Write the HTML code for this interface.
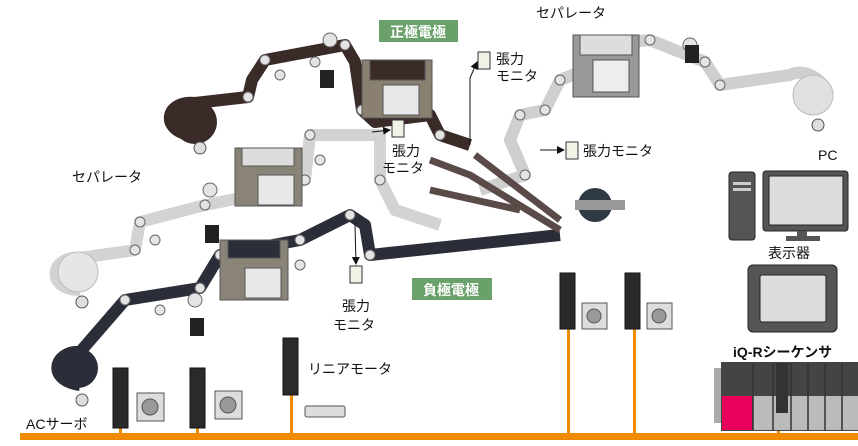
<!DOCTYPE html>
<html><head><meta charset="utf-8"><style>
body{margin:0;background:#fff}
svg{display:block}
text{font-family:"Liberation Sans","Noto Sans CJK JP",sans-serif;fill:#111}
</style></head><body>
<svg width="858" height="446" viewBox="0 0 858 446" xmlns="http://www.w3.org/2000/svg">
<defs>
<marker id="ar" markerWidth="8" markerHeight="8" refX="7" refY="4" orient="auto"><path d="M0,0 L8,4 L0,8z" fill="#111"/></marker>
</defs>
<g fill="none" stroke-linejoin="round">
<path d="M190,135 C160,130 165,100 195,103 L248,97 L252,80 L265,60 L345,45 L355,62 L362,110 L375,122 L430,115 L440,135 L470,145" stroke="#3a2a28" stroke-width="12"/>
<path d="M815,110 C840,90 810,65 790,75 L720,85 L705,62 L650,40 L600,45 L585,70 L560,80 L545,110 L520,115 L510,140 L525,175 L480,190" stroke="#cfcfcf" stroke-width="12"/>
<path d="M80,290 C45,290 50,255 80,258 L135,250 L140,222 L205,205 L245,197 L305,180 L310,135 L380,135 L380,180 L395,210 L440,225" stroke="#d3d3d3" stroke-width="12"/>
<path d="M80,385 C45,380 55,350 80,352 L125,300 L200,288 L220,255 L300,240 L350,215 L365,225 L370,255 L560,235" stroke="#2b2d38" stroke-width="12"/>
<path d="M430,160 L470,175 L560,230 M475,155 L560,220 M430,190 L520,210" stroke="#5a4a48" stroke-width="7"/>
</g>
<!-- rollers -->
<g fill="#e4e4e4" stroke="#666" stroke-width="1">
<circle cx="248" cy="97" r="5"/><circle cx="265" cy="60" r="5"/><circle cx="345" cy="45" r="5"/><circle cx="362" cy="110" r="5"/><circle cx="440" cy="135" r="5"/><circle cx="280" cy="75" r="5"/><circle cx="315" cy="62" r="5"/>
<circle cx="720" cy="85" r="5"/><circle cx="705" cy="62" r="5"/><circle cx="650" cy="40" r="5"/><circle cx="560" cy="80" r="5"/><circle cx="545" cy="110" r="5"/><circle cx="520" cy="115" r="5"/><circle cx="525" cy="175" r="5"/>
<circle cx="135" cy="250" r="5"/><circle cx="140" cy="222" r="5"/><circle cx="205" cy="205" r="5"/><circle cx="305" cy="180" r="5"/><circle cx="310" cy="135" r="5"/><circle cx="380" cy="180" r="5"/><circle cx="155" cy="240" r="5"/><circle cx="320" cy="160" r="5"/>
<circle cx="125" cy="300" r="5"/><circle cx="200" cy="288" r="5"/><circle cx="220" cy="255" r="5"/><circle cx="300" cy="240" r="5"/><circle cx="350" cy="215" r="5"/><circle cx="370" cy="255" r="5"/><circle cx="300" cy="265" r="5"/><circle cx="160" cy="310" r="5"/>
<circle cx="210" cy="190" r="7"/><circle cx="330" cy="40" r="7"/><circle cx="690" cy="45" r="7"/><circle cx="195" cy="300" r="7"/>
</g>
<circle cx="195" cy="122" r="22" fill="#3a2a28"/><circle cx="200" cy="148" r="6" fill="#ddd" stroke="#555"/>
<circle cx="813" cy="95" r="20" fill="#e0e0e0" stroke="#bbb"/><circle cx="818" cy="125" r="6" fill="#ddd" stroke="#555"/>
<circle cx="78" cy="272" r="20" fill="#e6e6e6" stroke="#bbb"/><circle cx="82" cy="302" r="6" fill="#ddd" stroke="#555"/>
<circle cx="78" cy="368" r="20" fill="#2b2d38"/><circle cx="82" cy="400" r="6" fill="#ddd" stroke="#555"/>
<circle cx="595" cy="205" r="17" fill="#2f3a45"/><rect x="575" y="200" width="50" height="10" fill="#999"/>
<g stroke="#555" stroke-width="1">
<rect x="362" y="60" width="70" height="58" fill="#8a8070"/><rect x="383" y="85" width="36" height="30" fill="#e8e8e8"/><rect x="370" y="60" width="55" height="20" fill="#3a2a28"/>
<rect x="573" y="35" width="66" height="62" fill="#999"/><rect x="593" y="60" width="36" height="32" fill="#ededed"/><rect x="580" y="35" width="52" height="20" fill="#ddd"/>
<rect x="235" y="148" width="67" height="58" fill="#8a8478"/><rect x="258" y="175" width="36" height="30" fill="#e8e8e8"/><rect x="242" y="148" width="52" height="18" fill="#ddd"/>
<rect x="220" y="240" width="68" height="60" fill="#8a8478"/><rect x="245" y="268" width="36" height="30" fill="#e8e8e8"/><rect x="228" y="240" width="52" height="18" fill="#2b2d38"/>
</g>
<g fill="#222"><rect x="320" y="70" width="14" height="18"/><rect x="685" y="45" width="14" height="18"/><rect x="205" y="225" width="14" height="18"/><rect x="190" y="318" width="14" height="18"/></g>
<g fill="#f2f1e6" stroke="#333"><rect x="392" y="120" width="12" height="17"/><rect x="478" y="52" width="12" height="17"/><rect x="566" y="142" width="12" height="17"/><rect x="350" y="266" width="12" height="17"/></g>
<g stroke="#111" fill="none" marker-end="url(#ar)"><path d="M372,132 L390,130"/><path d="M470,145 L470,78 L477,62"/><path d="M540,150 L564,150"/><path d="M355,225 L356,264"/></g>
<g font-size="14"><text x="392" y="156">張力</text><text x="382" y="173">モニタ</text>
<text x="496" y="64">張力</text><text x="496" y="81">モニタ</text>
<text x="583" y="156">張力モニタ</text>
<text x="342" y="311">張力</text><text x="333" y="330">モニタ</text>
<text x="72" y="182">セパレータ</text><text x="536" y="18">セパレータ</text>
<text x="308" y="374">リニアモータ</text><text x="26" y="429">ACサーボ</text>
<text x="818" y="160">PC</text><text x="768" y="258">表示器</text><text x="733" y="357" font-weight="bold">iQ-Rシーケンサ</text></g>
<rect x="379" y="20" width="79" height="22" fill="#6aa06a"/><text x="390" y="37" font-size="14" font-weight="bold" style="fill:#fff">正極電極</text>
<rect x="412" y="278" width="80" height="22" fill="#6aa06a"/><text x="423" y="295" font-size="14" font-weight="bold" style="fill:#fff">負極電極</text>
<rect x="20" y="433" width="838" height="7" fill="#f08a00"/>
<g fill="#f08a00"><rect x="119" y="426" width="3" height="9"/><rect x="196" y="426" width="3" height="9"/><rect x="290" y="394" width="3" height="40"/><rect x="567" y="328" width="3" height="106"/><rect x="633" y="328" width="3" height="106"/><rect x="777" y="420" width="3" height="14"/></g>
<g fill="#2a2a2a" stroke="#111"><rect x="113" y="368" width="15" height="60"/><rect x="190" y="368" width="15" height="60"/><rect x="283" y="338" width="15" height="57"/><rect x="560" y="273" width="15" height="56"/><rect x="625" y="273" width="15" height="56"/></g>
<g fill="#ddd" stroke="#555"><rect x="137" y="393" width="27" height="28"/><rect x="215" y="391" width="27" height="28"/><rect x="582" y="303" width="25" height="26"/><rect x="647" y="303" width="25" height="26"/><rect x="305" y="406" width="40" height="11" rx="2"/></g>
<g fill="#999" stroke="#555"><circle cx="150" cy="407" r="8"/><circle cx="228" cy="405" r="8"/><circle cx="594" cy="316" r="7"/><circle cx="659" cy="316" r="7"/></g>
<rect x="714" y="368" width="8" height="55" fill="#aaa"/>
<rect x="721" y="362" width="137" height="69" fill="#444"/>
<rect x="722" y="396" width="30" height="34" fill="#e8005a"/>
<rect x="753" y="396" width="105" height="34" fill="#bbb"/>
<g stroke="#333" stroke-width="1.5"><path d="M753,363 V430 M773,363 V430 M791,363 V430 M808,363 V430 M825,363 V430 M842,363 V430"/></g>
<rect x="776" y="363" width="12" height="50" fill="#333"/>
<rect x="729" y="172" width="26" height="68" rx="3" fill="#555" stroke="#222"/>
<rect x="733" y="182" width="18" height="3" fill="#ccc"/><rect x="733" y="188" width="18" height="3" fill="#ccc"/>
<rect x="763" y="171" width="85" height="60" rx="3" fill="#555" stroke="#222"/>
<rect x="769" y="176" width="74" height="49" fill="#ddd" stroke="#222"/>
<rect x="797" y="231" width="10" height="6" fill="#555"/><rect x="786" y="236" width="34" height="5" fill="#555"/>
<rect x="748" y="265" width="89" height="67" rx="5" fill="#555" stroke="#222"/>
<rect x="760" y="275" width="66" height="47" rx="2" fill="#ddd" stroke="#222"/>
</svg>
</body></html>
